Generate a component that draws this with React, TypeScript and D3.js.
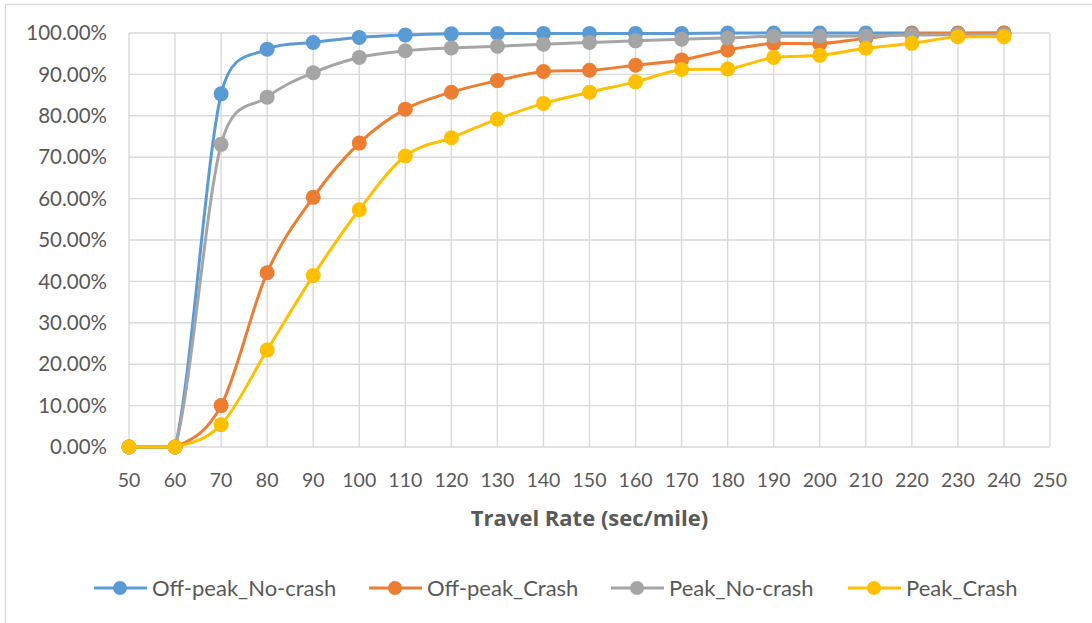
import * as d3 from "d3";

const travelRates = [50, 60, 70, 80, 90, 100, 110, 120, 130, 140, 150, 160, 170, 180, 190, 200, 210, 220, 230, 240];

const offPeakNoCrash = [0, 0, 85.3, 96.1, 97.7, 98.9, 99.5, 99.8, 99.9, 99.9, 99.9, 99.9, 99.9, 100, 100, 100, 100, 100, 100, 100];
const offPeakCrash = [0, 0, 10.0, 42.1, 60.3, 73.4, 81.6, 85.7, 88.5, 90.7, 91.0, 92.2, 93.5, 95.9, 97.5, 97.4, 98.7, 99.8, 99.9, 100];
const peakNoCrash = [0, 0, 73.1, 84.5, 90.4, 94.1, 95.7, 96.4, 96.8, 97.3, 97.7, 98.1, 98.5, 98.8, 99.2, 99.2, 99.3, 99.5, 99.6, 99.6];
const peakCrash = [0, 0, 5.4, 23.4, 41.4, 57.3, 70.3, 74.7, 79.2, 83.0, 85.7, 88.2, 91.2, 91.3, 94.1, 94.6, 96.3, 97.5, 99.1, 99.1];

const seriesNames = ["Off-peak_No-crash", "Off-peak_Crash", "Peak_No-crash", "Peak_Crash"];
const seriesColors = ["#5B9BD5", "#ED7D31", "#A5A5A5", "#FFC000"];
const seriesValues = [offPeakNoCrash, offPeakCrash, peakNoCrash, peakCrash];

const xTicks = d3.range(50, 251, 10);
const yTicks = d3.range(0, 101, 10);

const width = 1092;
const height = 623;
const plot = { left: 129, right: 1050, top: 33, bottom: 447 };
const font = "Lato, 'Open Sans', sans-serif";
const textColor = "#595959";
const gridColor = "#d9d9d9";

// legend item positions (marker centre)
const legendX = [120, 395, 637, 874];
const legendY = 588;

type Pt = [number, number];

// spreadsheet-style smoothing: bezier legs of |P(i+1)-P(i-1)|/6,
// capped by the segment length and kept inside the segment's y-range
function smoothPath(pts: Pt[]) {
  const p = d3.path();
  const n = pts.length;
  const dist = (a: Pt, b: Pt) => Math.hypot(b[0] - a[0], b[1] - a[1]);
  const clamp = (v: number, a: number, b: number) => Math.max(Math.min(a, b), Math.min(Math.max(a, b), v));
  p.moveTo(pts[0][0], pts[0][1]);
  for (let i = 0; i < n - 1; i++) {
    const p0 = pts[Math.max(i - 1, 0)];
    const p1 = pts[i];
    const p2 = pts[i + 1];
    const p3 = pts[Math.min(i + 2, n - 1)];
    const d12 = dist(p1, p2);
    const d02 = dist(p0, p2) || 1;
    const d13 = dist(p1, p3) || 1;
    const l1 = Math.min(d02 / 6, 0.75 * d12);
    const l2 = Math.min(d13 / 6, 0.75 * d12);
    const c1x = p1[0] + ((p2[0] - p0[0]) / d02) * l1;
    const c1y = clamp(p1[1] + ((p2[1] - p0[1]) / d02) * l1, p1[1], p2[1]);
    const c2x = p2[0] - ((p3[0] - p1[0]) / d13) * l2;
    const c2y = clamp(p2[1] - ((p3[1] - p1[1]) / d13) * l2, p1[1], p2[1]);
    p.bezierCurveTo(c1x, c1y, c2x, c2y, p2[0], p2[1]);
  }
  return p.toString();
}

export default function App() {
  const x = d3.scaleLinear().domain([50, 250]).range([plot.left, plot.right]);
  const y = d3.scaleLinear().domain([0, 100]).range([plot.bottom, plot.top]);

  return (
    <div style={{ position: "fixed", left: 0, top: 0 }}>
      <svg width={width} height={height} style={{ display: "block", background: "#fff" }}>
        {/* chart area border */}
        <path d={`M5.5,${height} V4.5 H${width}`} fill="none" stroke={gridColor} strokeWidth={1.3} />

        {/* gridlines */}
        <g stroke={gridColor} strokeWidth={1.4}>
          {yTicks.map((t) => (
            <line key={"h" + t} x1={plot.left} x2={plot.right} y1={y(t)} y2={y(t)} />
          ))}
          {xTicks.map((t) => (
            <line key={"v" + t} x1={x(t)} x2={x(t)} y1={plot.top} y2={plot.bottom} />
          ))}
        </g>

        {/* y tick labels */}
        <g fontFamily={font} fontSize={20.5} fill={textColor} textAnchor="end">
          {yTicks.map((t) => (
            <text key={t} x={107} y={y(t)} dy="0.35em">
              {t.toFixed(2) + "%"}
            </text>
          ))}
        </g>

        {/* x tick labels */}
        <g fontFamily={font} fontSize={19.5} fill={textColor} textAnchor="middle">
          {xTicks.map((t) => (
            <text key={t} x={x(t)} y={480} dy="0.35em">
              {t}
            </text>
          ))}
        </g>

        <text
          x={(plot.left + plot.right) / 2}
          y={518}
          dy="0.35em"
          textAnchor="middle"
          fontFamily="'Open Sans', sans-serif"
          fontSize={22}
          fontWeight="bold"
          fill={textColor}
        >
          Travel Rate (sec/mile)
        </text>

        {/* series */}
        {seriesValues.map((vals, i) => {
          const pts = travelRates.map((r, j) => [x(r), y(vals[j])] as Pt);
          return (
            <g key={seriesNames[i]}>
              <path d={smoothPath(pts)} fill="none" stroke={seriesColors[i]} strokeWidth={3} strokeLinejoin="round" />
              {pts.map((p, j) => (
                <circle key={j} cx={p[0]} cy={p[1]} r={7.5} fill={seriesColors[i]} />
              ))}
            </g>
          );
        })}

        {/* legend */}
        <g fontFamily={font} fontSize={22} fill={textColor}>
          {seriesNames.map((name, i) => (
            <g key={name}>
              <line
                x1={legendX[i] - 26}
                x2={legendX[i] + 27}
                y1={legendY}
                y2={legendY}
                stroke={seriesColors[i]}
                strokeWidth={3}
              />
              <circle cx={legendX[i]} cy={legendY} r={7} fill={seriesColors[i]} />
              <text x={legendX[i] + 32} y={legendY} dy="0.35em">
                {name}
              </text>
            </g>
          ))}
        </g>
      </svg>
    </div>
  );
}
